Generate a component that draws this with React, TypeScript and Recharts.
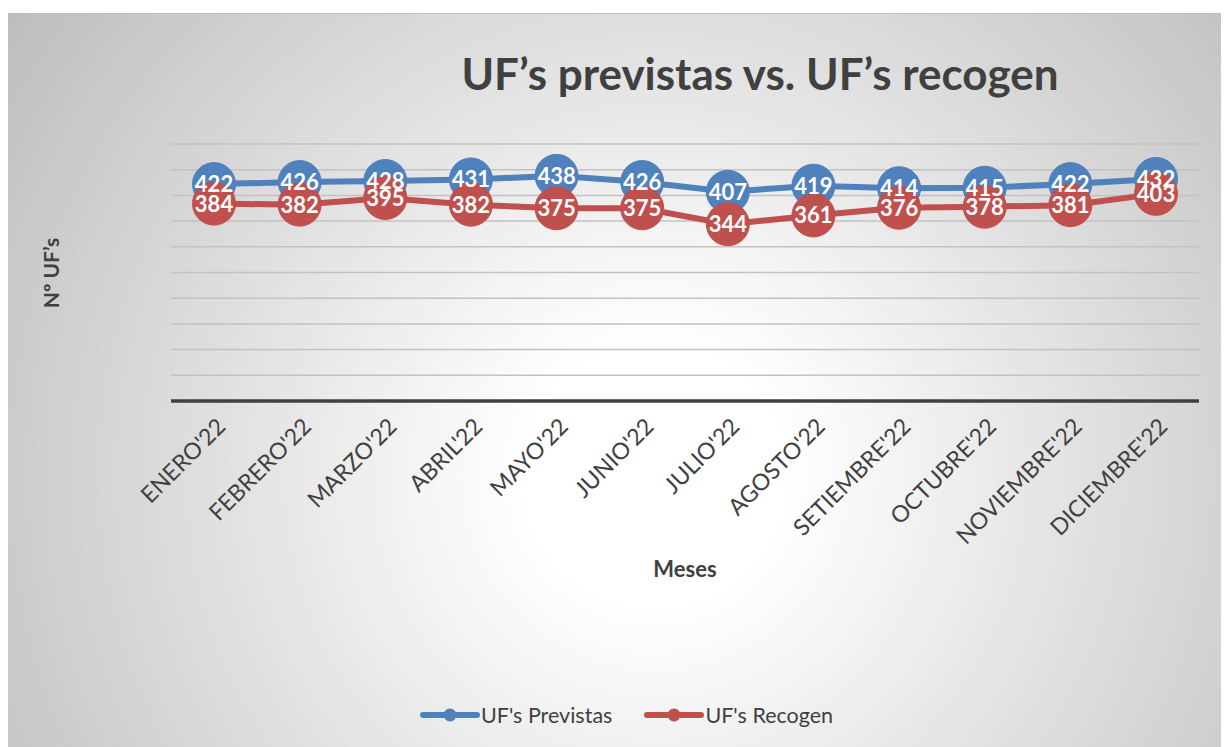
import React from 'react';
import { LineChart, Line, XAxis, YAxis, CartesianGrid, Legend, LabelList } from 'recharts';

const months = ["ENERO'22", "FEBRERO'22", "MARZO'22", "ABRIL'22", "MAYO'22", "JUNIO'22", "JULIO'22", "AGOSTO'22", "SETIEMBRE'22", "OCTUBRE'22", "NOVIEMBRE'22", "DICIEMBRE'22"];
const previstas = [422, 426, 428, 431, 438, 426, 407, 419, 414, 415, 422, 432];
const recogen = [384, 382, 395, 382, 375, 375, 344, 361, 376, 378, 381, 403];
const yTicks = [0, 50, 100, 150, 200, 250, 300, 350, 400, 450, 500];

const data = months.map((m, i) => ({ month: m, previstas: previstas[i], recogen: recogen[i] }));

const BLUE = '#4F81BD';
const RED = '#C0504D';
const TEXT = '#404040';
const FONT = 'Lato, "Open Sans", sans-serif';

const XTick = (props: any) => {
  const { x, y, payload } = props;
  const ax = x + 13;
  const ay = y + 19;
  return (
    <text x={ax} y={ay} transform={`rotate(-45 ${ax} ${ay})`} textAnchor="end" fill={TEXT} fontSize={23} fontFamily={FONT}>
      {payload.value}
    </text>
  );
};

const DataLabel = (props: any) => {
  const { x, y, value } = props;
  return (
    <text x={x} y={y} dy="0.36em" textAnchor="middle" fill="#ffffff" fontSize={22} fontWeight={700} fontFamily={FONT}>
      {value}
    </text>
  );
};

const LegendContent = () => {
  const items = [
    { name: "UF's Previstas", color: BLUE },
    { name: "UF's Recogen", color: RED },
  ];
  return (
    <div style={{ display: 'flex', justifyContent: 'center', alignItems: 'center', height: 30, paddingLeft: 16 }}>
      {items.map((it, i) => (
        <div key={i} style={{ display: 'flex', alignItems: 'center', marginLeft: i === 0 ? 0 : 32 }}>
          <svg width={60} height={20} style={{ display: 'block' }}>
            <line x1={3} y1={10} x2={57} y2={10} stroke={it.color} strokeWidth={6} strokeLinecap="round" />
            <circle cx={30} cy={10} r={6.5} fill={it.color} />
          </svg>
          <span style={{ fontFamily: FONT, fontSize: 21.5, color: TEXT, marginLeft: 1 }}>{it.name}</span>
        </div>
      ))}
    </div>
  );
};

export default function App() {
  return (
    <div
      style={{
        position: 'relative',
        width: 1221,
        height: 734,
        marginTop: 5,
        borderTop: '1px solid #bdbdbd',
        boxSizing: 'border-box',
        background: 'radial-gradient(circle farthest-corner at 53% 63%, #ffffff 0%, #ffffff 16%, #bdbdbd 100%)',
        overflow: 'hidden',
      }}
    >
      <div
        style={{
          position: 'absolute',
          left: 752,
          top: 59,
          transform: 'translate(-50%, -50%)',
          fontFamily: FONT,
          fontWeight: 700,
          fontSize: 44,
          color: TEXT,
          whiteSpace: 'nowrap',
        }}
      >
        UF’s previstas vs. UF’s recogen
      </div>
      <div
        style={{
          position: 'absolute',
          left: 42,
          top: 259,
          transform: 'translate(-50%, -50%) rotate(-90deg)',
          fontFamily: FONT,
          fontWeight: 700,
          fontSize: 21,
          color: TEXT,
          whiteSpace: 'nowrap',
        }}
      >
        Nº UF’s
      </div>
      <LineChart
        width={1221}
        height={733}
        data={data}
        margin={{ top: 130, right: 30, left: 163, bottom: 17 }}
        style={{ position: 'absolute', left: 0, top: 0 }}
      >
        <CartesianGrid horizontal vertical={false} stroke="#c2c2c2" strokeWidth={1.5} />
        <YAxis hide domain={[0, 500]} ticks={yTicks} type="number" />
        <XAxis
          dataKey="month"
          interval={0}
          padding={{ left: 43, right: 43 }}
          tickLine={false}
          axisLine={{ stroke: TEXT, strokeWidth: 3.5 }}
          tick={<XTick />}
          height={299}
          label={{ value: 'Meses', position: 'insideTop', offset: 160, fill: TEXT, fontSize: 22, fontWeight: 700, fontFamily: FONT }}
        />
        <Legend verticalAlign="bottom" content={<LegendContent />} wrapperStyle={{ left: 0, width: 1221 }} />
        <Line
          dataKey="previstas"
          name="UF's Previstas"
          stroke={BLUE}
          strokeWidth={6}
          dot={{ r: 21.5, fill: BLUE, stroke: BLUE, strokeWidth: 1 }}
          activeDot={false}
          isAnimationActive={false}
        />
        <Line
          dataKey="recogen"
          name="UF's Recogen"
          stroke={RED}
          strokeWidth={6}
          dot={{ r: 21.5, fill: RED, stroke: RED, strokeWidth: 1 }}
          activeDot={false}
          isAnimationActive={false}
        />
        <Line dataKey="previstas" stroke="none" dot={false} activeDot={false} legendType="none" isAnimationActive={false}>
          <LabelList dataKey="previstas" content={<DataLabel />} />
        </Line>
        <Line dataKey="recogen" stroke="none" dot={false} activeDot={false} legendType="none" isAnimationActive={false}>
          <LabelList dataKey="recogen" content={<DataLabel />} />
        </Line>
      </LineChart>
    </div>
  );
}
